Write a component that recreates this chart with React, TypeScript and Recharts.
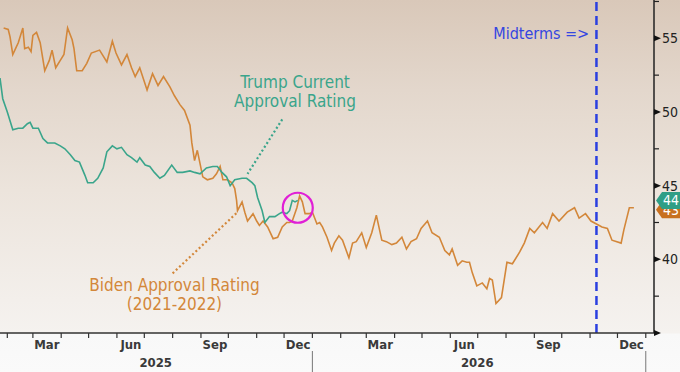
import React from 'react'
import { LineChart, Line, XAxis, YAxis, ReferenceLine, ReferenceDot } from 'recharts'

// x values are days counted from 1 Jan 2025
const bidenDays = [27, 32, 34, 37, 40, 43, 48, 50, 54, 57, 59, 63, 67, 72, 77, 80, 84, 89, 93, 97, 102, 104, 107, 113, 118, 123, 132, 140, 146, 150, 156, 162, 167, 171, 176, 184, 190, 196, 202, 209, 214, 220, 225, 231, 233, 236, 239, 245, 250, 256, 260, 264, 267, 272, 277, 280, 282, 283, 288, 291, 294, 300, 304, 307, 311, 316, 322, 327, 332, 337, 340, 343, 348, 351, 354, 357, 362, 365, 370, 373, 376, 381, 386, 389, 394, 398, 405, 409, 413, 419, 424, 430, 435, 441, 446, 452, 457, 463, 468, 473, 479, 484, 491, 496, 504, 510, 515, 518, 524, 529, 534, 537, 540, 545, 551, 556, 559, 562, 566, 572, 578, 584, 592, 597, 603, 608, 617, 622, 628, 635, 644, 652, 657, 664, 670, 676, 682, 688, 693, 703, 706, 712, 717]
const bidenValues = [55.7, 55.6, 55.1, 53.9, 54.3, 54.7, 55.7, 54.3, 54.4, 54.1, 55.2, 55.4, 54.7, 52.8, 53.5, 54.2, 53.0, 53.5, 53.9, 55.7, 54.9, 54.3, 52.8, 52.8, 53.3, 54.0, 54.2, 53.4, 54.8, 54.0, 53.2, 53.9, 53.0, 52.4, 53.0, 51.5, 52.6, 51.8, 52.4, 51.7, 51.1, 50.5, 50.1, 49.1, 47.9, 46.7, 47.4, 45.6, 45.4, 45.5, 45.8, 46.3, 45.4, 45.4, 45.2, 44.8, 44.0, 43.3, 43.9, 43.2, 42.6, 43.1, 42.6, 42.3, 42.6, 42.2, 41.4, 41.5, 42.2, 42.5, 42.5, 42.6, 43.5, 44.3, 43.9, 43.1, 43.1, 43.2, 42.4, 42.5, 42.2, 41.5, 40.6, 41.1, 41.6, 41.3, 40.1, 41.1, 41.2, 41.8, 40.8, 41.8, 43.0, 41.3, 41.2, 41.0, 41.1, 41.5, 40.7, 41.2, 41.4, 42.1, 42.6, 41.8, 41.5, 40.6, 40.3, 40.7, 39.6, 39.9, 39.8, 39.8, 39.1, 38.2, 38.4, 38.0, 38.7, 38.6, 37.0, 37.4, 39.8, 39.7, 40.5, 41.1, 42.1, 41.8, 42.5, 42.1, 43.1, 42.6, 43.2, 43.5, 42.8, 43.1, 42.6, 42.4, 42.2, 42.1, 41.3, 41.1, 42.0, 43.5, 43.5]

const trumpDays = [23, 26, 31, 37, 43, 48, 53, 56, 59, 65, 70, 75, 83, 89, 94, 100, 105, 110, 116, 119, 125, 130, 136, 140, 146, 151, 156, 162, 167, 173, 176, 182, 187, 192, 198, 203, 211, 217, 223, 231, 236, 242, 249, 256, 261, 266, 271, 275, 280, 288, 293, 299, 302, 305, 310, 313, 318, 324, 329, 332, 337, 340, 343, 346, 349]
const trumpValues = [52.3, 50.9, 50.0, 48.8, 48.9, 48.9, 49.2, 49.3, 48.9, 48.9, 48.2, 47.9, 47.9, 47.7, 47.5, 47.1, 46.7, 46.6, 45.7, 45.2, 45.2, 45.5, 46.2, 47.3, 47.7, 47.5, 47.6, 47.1, 46.9, 46.6, 46.9, 46.4, 46.3, 45.9, 45.5, 45.7, 46.4, 45.9, 45.9, 46.0, 45.9, 45.8, 46.2, 46.3, 46.3, 45.9, 45.6, 45.0, 45.4, 45.5, 45.5, 45.2, 45.0, 44.2, 43.3, 42.5, 42.9, 42.9, 43.1, 43.2, 43.1, 43.3, 44.0, 43.9, 44.0]

const monthStarts = [31, 59, 90, 120, 151, 181, 212, 243, 273, 304, 334, 365, 396, 424, 455, 485, 516, 546, 577, 608, 638, 669, 699, 730]
const monthLabels: Record<number, string> = { 59: 'Mar', 151: 'Jun', 243: 'Sep', 334: 'Dec', 424: 'Mar', 516: 'Jun', 608: 'Sep', 699: 'Dec' }
const yearStarts = [365, 730]
const yearLabelDays = [193.5, 545.5]
const yearLabels = ['2025', '2026']
const yTicks = [35, 37.5, 40, 42.5, 45, 47.5, 50, 52.5, 55, 57.5]
const tagLabels = ['44', '43']
const midtermsDay = 676

const xDomain = [23, 739]
const yDomain = [35, 57.6]

const ORANGE = '#d3873a'
const TEAL = '#3aa58b'
const FONT = "'DejaVu Sans Condensed', 'DejaVu Sans', sans-serif"

const bidenData = bidenDays.map((d, i) => ({ day: d, biden: bidenValues[i] }))
const trumpData = trumpDays.map((d, i) => ({ day: d, trump: trumpValues[i] }))
const xTicks = [...monthStarts, ...yearLabelDays].sort((a, b) => a - b)

function MonthTick(props: any) {
  const { x, y, payload } = props
  const v = payload.value
  const yi = yearLabelDays.indexOf(v)
  if (yi >= 0) {
    return (
      <text x={x} y={y + 34} textAnchor="middle" fontSize={13} fontWeight="bold" fill="#3a3a3a" fontFamily={FONT}>
        {yearLabels[yi]}
      </text>
    )
  }
  const lab = monthLabels[v]
  return (
    <g>
      <line x1={x} x2={x} y1={y} y2={y + 5} stroke="#333" strokeWidth={1.2} />
      {yearStarts.includes(v) && <line x1={x} x2={x} y1={y + 18} y2={y + 39} stroke="#777" strokeWidth={1} />}
      {lab && (
        <text x={x + 14} y={y + 16} textAnchor="middle" fontSize={13} fontWeight="bold" fill="#3a3a3a" fontFamily={FONT}>
          {lab}
        </text>
      )}
    </g>
  )
}

function ValueTick(props: any) {
  const { x, y, payload } = props
  const v = payload.value
  if (v % 5 === 0) {
    return (
      <g>
        <polygon points={`${x},${y - 3} ${x + 7},${y} ${x},${y + 3}`} fill="#111" />
        {v > 35 && (
          <text x={x + 8} y={y + 5} fontSize={14} fill="#222" fontFamily={FONT}>
            {v}
          </text>
        )}
      </g>
    )
  }
  return <line x1={x} x2={x + 5} y1={y} y2={y} stroke="#222" strokeWidth={1.2} />
}

function textBlock(lines: string[], color: string, size: number, anchor: string = 'middle') {
  return (p: any) => (
    <text x={p.cx} y={p.cy - ((lines.length - 1) * size * 1.15) / 2 + size * 0.35} textAnchor={anchor} fontSize={size} fill={color} fontFamily={FONT}>
      {lines.map((l, i) => (
        <tspan key={i} x={p.cx} dy={i === 0 ? 0 : size * 1.15}>
          {l}
        </tspan>
      ))}
    </text>
  )
}

function tag(color: string, label: string, dy: number) {
  return (p: any) => {
    const x0 = p.cx + 2
    const y = p.cy + dy
    return (
      <g>
        <polygon points={`${x0},${y} ${x0 + 6},${y - 8.5} ${x0 + 30},${y - 8.5} ${x0 + 30},${y + 8.5} ${x0 + 6},${y + 8.5}`} fill={color} />
        <text x={x0 + 15} y={y + 5} textAnchor="middle" fontSize={14} fill="#fff" fontFamily={FONT}>
          {label}
        </text>
      </g>
    )
  }
}

export default function App() {
  return (
    <div
      style={{
        position: 'absolute',
        left: 0,
        top: 0,
        width: 680,
        height: 372,
        background: 'linear-gradient(to bottom, #d9c8b9 0px, #e3d7cc 90px, #ece4dc 190px, #f3efeb 300px, #f5f2ef 333px, #f8f8f8 334px, #fafafa 372px)'
      }}
    >
      <LineChart width={680} height={372} margin={{ top: 0, right: 0, bottom: 0, left: 0 }}>
        <XAxis
          dataKey="day"
          type="number"
          domain={xDomain}
          ticks={xTicks}
          interval={0}
          allowDataOverflow
          height={39}
          tickSize={0}
          tickMargin={0}
          tickLine={false}
          tick={<MonthTick />}
          axisLine={{ stroke: '#333', strokeWidth: 1.5 }}
        />
        <YAxis
          orientation="right"
          type="number"
          domain={yDomain}
          ticks={yTicks}
          interval={0}
          allowDataOverflow
          width={26}
          tickSize={0}
          tickMargin={0}
          tickLine={false}
          tick={<ValueTick />}
          axisLine={{ stroke: '#222', strokeWidth: 1.5 }}
        />
        <ReferenceLine x={midtermsDay} stroke="#2a3fe0" strokeWidth={2.5} strokeDasharray="9 5" />
        <ReferenceLine segment={[{ x: 332, y: 49.5 }, { x: 294, y: 45.8 }]} stroke={TEAL} strokeWidth={2.2} strokeDasharray="2 2.5" />
        <ReferenceLine segment={[{ x: 212, y: 39.05 }, { x: 283, y: 43.2 }]} stroke={ORANGE} strokeWidth={2.2} strokeDasharray="2 2.5" />
        <Line data={bidenData} dataKey="biden" stroke={ORANGE} strokeWidth={1.6} dot={false} activeDot={false} isAnimationActive={false} />
        <Line data={trumpData} dataKey="trump" stroke={TEAL} strokeWidth={1.6} dot={false} activeDot={false} isAnimationActive={false} />
        <ReferenceDot x={349} y={43.5} r={15} fill="none" stroke="#e01fd6" strokeWidth={2.2} />
        <ReferenceDot x={346} y={51.4} ifOverflow="visible" shape={textBlock(['Trump Current', 'Approval Rating'], TEAL, 17)} />
        <ReferenceDot x={214} y={37.6} ifOverflow="visible" shape={textBlock(['Biden Approval Rating', '(2021-2022)'], ORANGE, 17)} />
        <ReferenceDot x={668} y={55.35} ifOverflow="visible" shape={textBlock(['Midterms =>'], '#3446e0', 16, 'end')} />
        <ReferenceDot x={xDomain[1]} y={bidenValues[bidenValues.length - 1]} ifOverflow="visible" shape={tag('#c8701f', tagLabels[1], 2)} />
        <ReferenceDot x={xDomain[1]} y={trumpValues[trumpValues.length - 1]} ifOverflow="visible" shape={tag('#2f9e86', tagLabels[0], 0)} />
      </LineChart>
    </div>
  )
}
